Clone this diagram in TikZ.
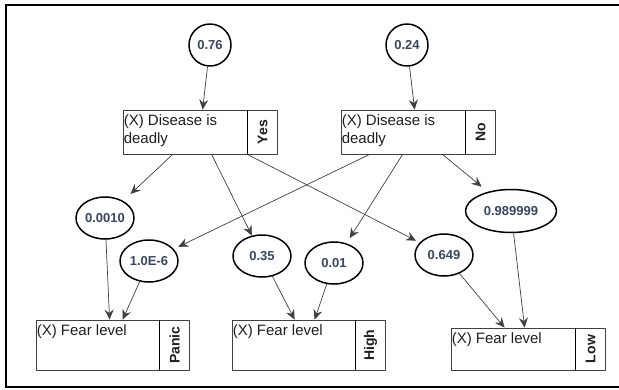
\documentclass[tikz,border=0pt]{standalone}
\usepackage{fontspec}
\setmainfont{Liberation Sans}
\usepackage{graphicx}
\usepackage{xcolor}
\usetikzlibrary{arrows.meta,shapes.geometric}
\definecolor{numcol}{RGB}{55,70,95}
\definecolor{txtcol}{RGB}{30,30,30}
\definecolor{edgecol}{RGB}{64,64,64}

\begin{document}
\begin{tikzpicture}[line cap=round,line join=round,>={Stealth[length=10pt,width=9pt,inset=3.5pt]},x=1pt,y=-1pt,
	prob/.style={ellipse,draw=black,line width=1.5pt,inner sep=0pt,minimum width=58pt,minimum height=42pt,font=\fontsize{13}{15}\selectfont\bfseries,text=numcol},
	prior/.style={circle,draw=black,line width=1.5pt,inner sep=0pt,minimum size=42pt,font=\fontsize{13}{15}\selectfont\bfseries,text=numcol},
	varbox/.style={rectangle,draw=edgecol,line width=0.8pt,inner sep=0pt,minimum width=124pt,minimum height=44pt},
	statebox/.style={rectangle,draw=edgecol,line width=0.8pt,inner sep=0pt,minimum width=29.5pt,minimum height=44pt,font=\fontsize{14}{16}\selectfont\bfseries,text=txtcol},
	vartext/.style={anchor=north west,inner xsep=1pt,inner ysep=4.5pt,align=left,font=\fontsize{15}{18}\selectfont,text=txtcol},
	divider/.style={draw=black,line width=1.6pt,line cap=butt},
	link/.style={->,draw=edgecol,line width=0.7pt}]
	\useasboundingbox (0,0) rectangle (619,389);
	\draw[line width=2pt,line cap=butt,line join=miter] (619,5) -- (6,5) -- (6,387) -- (619,387);
	\node[prior] (p76) at (210,45) {0.76};
	\node[prior] (p24) at (407,45) {0.24};
	\node[varbox] (dy1) at (185,132) {};
	\node[statebox,anchor=north west] (dy1s) at (dy1.north east) {\rotatebox{90}{Yes}};
	\node[vartext] (dy1t) at (dy1.north west) {(X) Disease is\\deadly};
	\draw[divider] (dy1.north east) -- (dy1.south east);
	\node[varbox] (dy2) at (403,132) {};
	\node[statebox,anchor=north west] (dy2s) at (dy2.north east) {\rotatebox{90}{No}};
	\node[vartext] (dy2t) at (dy2.north west) {(X) Disease is\\deadly};
	\draw[divider] (dy2.north east) -- (dy2.south east);
	\node[prob] (q0010) at (105,218) {0.0010};
	\node[prob] (q1e6) at (149,261) {1.0E-6};
	\node[prob] (q035) at (262,256) {0.35};
	\node[prob] (q001) at (334,263) {0.01};
	\node[prob] (q0649) at (444,255) {0.649};
	\node[prob,minimum width=91pt,minimum height=43pt] (q0989) at (511,211) {0.989999};
	\node[varbox,minimum width=123pt,minimum height=50pt] (fp) at (97.5,345) {};
	\node[statebox,minimum height=50pt,anchor=north west] (fps) at (fp.north east) {\rotatebox{90}{Panic}};
	\node[vartext] (fpt) at (fp.north west) {(X) Fear level};
	\draw[divider] (fp.north east) -- (fp.south east);
	\node[varbox,minimum width=123pt,minimum height=50pt] (fh) at (293.5,345) {};
	\node[statebox,minimum height=50pt,anchor=north west] (fhs) at (fh.north east) {\rotatebox{90}{High}};
	\node[vartext] (fht) at (fh.north west) {(X) Fear level};
	\draw[divider] (fh.north east) -- (fh.south east);
	\node[varbox,minimum height=42pt] (fl) at (513,349) {};
	\node[statebox,minimum height=42pt,anchor=north west] (fls) at (fl.north east) {\rotatebox{90}{Low}};
	\node[vartext] (flt) at (fl.north west) {(X) Fear level};
	\draw[divider] (fl.north east) -- (fl.south east);
	\draw[link] (p76) -- ([xshift=80pt]dy1.north west);
	\draw[link] (p24) -- ([xshift=74pt]dy2.north west);
	\draw[link,shorten >=10pt] ([xshift=50pt]dy1.south west) -- (q0010);
	\draw[link] ([xshift=89pt]dy1.south west) -- (q035);
	\draw[link,shorten >=4pt] (dy1.south east) -- (q0649);
	\draw[link,shorten >=5pt] ([xshift=29pt]dy2.south west) -- (q1e6);
	\draw[link,shorten >=6pt] ([xshift=62pt]dy2.south west) -- (q001);
	\draw[link,shorten >=8pt] ([xshift=102pt]dy2.south west) -- (q0989);
	\draw[link] (q0010) -- ([xshift=74pt]fp.north west);
	\draw[link] (q1e6) -- ([xshift=87pt]fp.north west);
	\draw[link] (q035) -- ([xshift=63pt]fh.north west);
	\draw[link] (q001) -- ([xshift=83pt]fh.north west);
	\draw[link] (q0649) -- ([xshift=54pt]fl.north west);
	\draw[link] (q0989) -- ([xshift=74pt]fl.north west);
\end{tikzpicture}
\end{document}
